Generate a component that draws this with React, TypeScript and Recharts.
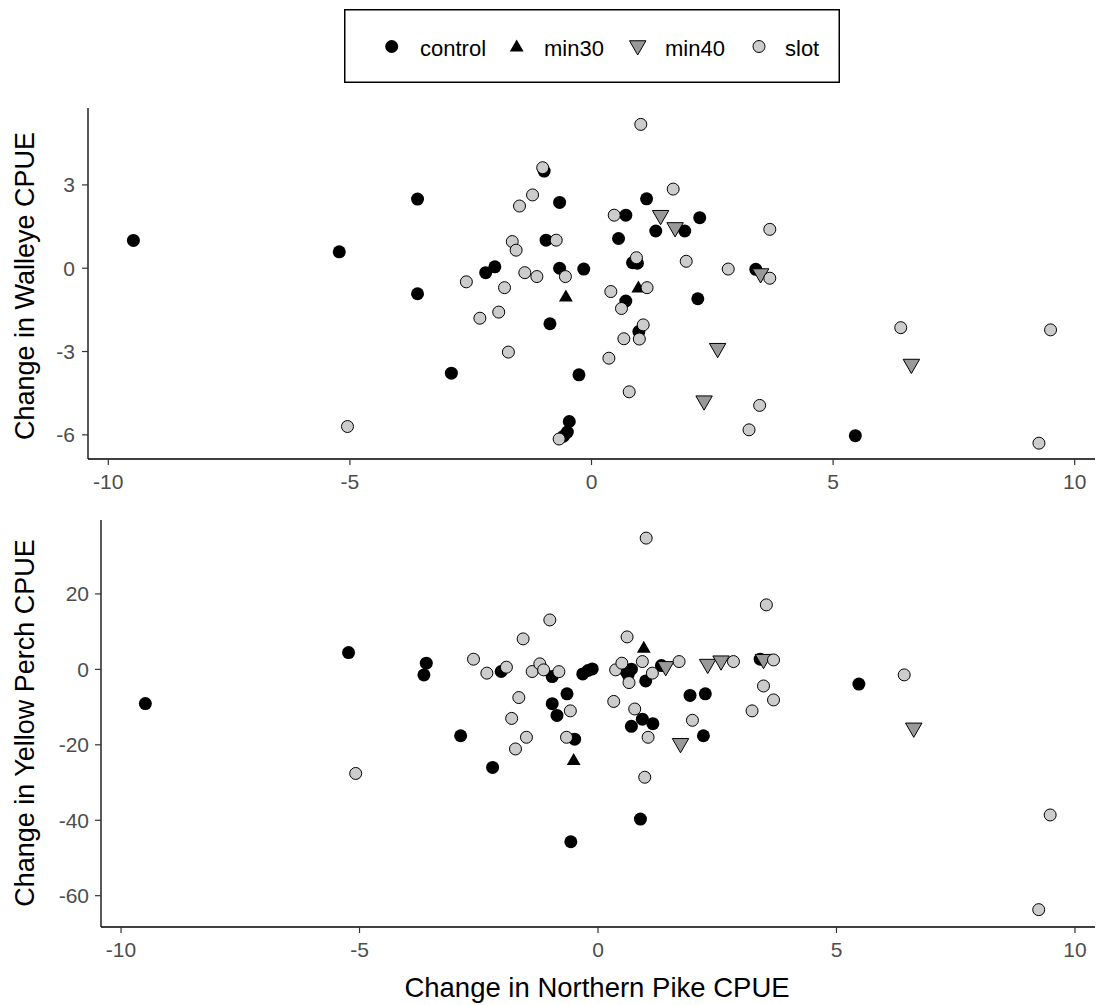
import React from 'react';
import { ScatterChart, Scatter, XAxis, YAxis, Legend } from 'recharts';

// Change in Northern Pike CPUE (x) vs Walleye CPUE (top panel)
const wControlPike = [-9.48, -5.22, -3.6, -3.6, -2.9, -2.19, -2.0, -0.98, -0.94, -0.86, -0.66, -0.66, -0.46, -0.5, -0.58, -0.26, -0.16, 0.56, 0.71, 0.71, 0.85, 0.95, 0.98, 1.14, 1.33, 1.93, 2.24, 2.2, 3.4, 5.46];
const wControlWalleye = [1.0, 0.59, 2.49, -0.92, -3.78, -0.16, 0.05, 3.5, 1.01, -2.0, 2.37, 0.0, -5.52, -5.9, -6.05, -3.84, -0.03, 1.07, 1.91, -1.18, 0.2, 0.18, -2.28, 2.5, 1.34, 1.34, 1.82, -1.1, -0.04, -6.03];
const wMin30Pike = [-0.53, 0.97];
const wMin30Walleye = [-1.05, -0.73];
const wMin40Pike = [1.43, 1.73, 2.61, 2.33, 3.5, 6.62];
const wMin40Walleye = [1.91, 1.47, -2.88, -4.77, -0.19, -3.45];
const wSlotPike = [-5.05, -2.59, -2.31, -1.92, -1.8, -1.72, -1.64, -1.56, -1.49, -1.38, -1.22, -1.13, -1.01, -0.73, -0.54, -0.67, 0.36, 0.4, 0.47, 0.62, 0.67, 0.78, 0.93, 0.99, 1.02, 1.07, 1.15, 1.69, 1.96, 2.83, 3.26, 3.48, 3.69, 3.69, 6.4, 9.26, 9.5];
const wSlotWalleye = [-5.7, -0.49, -1.8, -1.58, -0.7, -3.02, 0.96, 0.65, 2.24, -0.16, 2.64, -0.3, 3.62, 1.01, -0.3, -6.15, -3.24, -0.84, 1.91, -1.45, -2.54, -4.45, 0.38, -2.55, 5.18, -2.04, -0.7, 2.85, 0.25, -0.03, -5.82, -4.94, 1.4, -0.36, -2.14, -6.3, -2.22];

// Change in Northern Pike CPUE (x) vs Yellow Perch CPUE (bottom panel)
const pControlPike = [-9.49, -5.23, -3.6, -3.65, -2.88, -2.21, -2.03, -0.96, -0.96, -0.86, -0.65, -0.49, -0.57, -0.32, -0.21, -0.12, 0.59, 0.7, 0.63, 0.7, 0.93, 1.15, 1.0, 0.89, 1.33, 1.93, 2.25, 2.21, 3.4, 5.47];
const pControlPerch = [-9.06, 4.45, 1.64, -1.46, -17.6, -26.0, -0.57, -1.9, -9.1, -12.2, -6.49, -18.5, -45.7, -1.2, -0.3, 0.13, -0.57, 0.05, -1.46, -15.1, -13.2, -14.4, -3.05, -39.7, 1.0, -6.9, -6.49, -17.6, 2.7, -3.9];
const pMin30Pike = [0.96, -0.51];
const pMin30Perch = [5.5, -24.3];
const pMin40Pike = [1.42, 2.3, 2.58, 3.47, 1.73, 6.62];
const pMin40Perch = [0.8, 1.4, 2.3, 2.7, -19.6, -15.5];
const pSlotPike = [-5.08, -2.61, -2.33, -1.92, -1.81, -1.73, -1.66, -1.57, -1.5, -1.38, -1.22, -1.14, -1.01, -0.82, -0.66, -0.58, 0.33, 0.37, 0.5, 0.61, 0.65, 0.77, 0.93, 0.98, 1.01, 1.05, 1.14, 1.7, 1.98, 2.84, 3.23, 3.47, 3.53, 3.68, 3.68, 6.42, 9.24, 9.48];
const pSlotPerch = [-27.6, 2.7, -1.0, 0.58, -13.0, -21.1, -7.47, 8.08, -18.0, -0.57, 1.46, -0.13, 13.1, -0.6, -18.0, -11.0, -8.5, -0.13, 1.64, 8.6, -3.5, -10.5, 2.07, -28.6, 34.8, -18.0, -1.0, 2.07, -13.5, 2.07, -11.0, -4.4, 17.1, 2.5, -8.1, -1.46, -63.7, -38.6];

const groups = ['control', 'min30', 'min40', 'slot'];
const xTicks = [-10, -5, 0, 5, 10];
const walleyeTicks = [-6, -3, 0, 3];
const perchTicks = [-60, -40, -20, 0, 20];

const FONT = '"Liberation Sans", Arial, sans-serif';

const toPoints = (xs: number[], ys: number[]) => xs.map((x, i) => ({ x, y: ys[i] }));

const dotShape = (p: any) => <circle cx={p.cx} cy={p.cy} r={6.5} fill="#000" />;
const slotShape = (p: any) => (
  <circle cx={p.cx} cy={p.cy} r={6} fill="#cccccc" stroke="#000" strokeWidth={1} />
);
const upTri = (cx: number, cy: number, r: number) =>
  `${cx},${cy - r} ${cx + 0.866 * r},${cy + r / 2} ${cx - 0.866 * r},${cy + r / 2}`;
const downTri = (cx: number, cy: number, r: number) =>
  `${cx},${cy + r} ${cx + 0.866 * r},${cy - r / 2} ${cx - 0.866 * r},${cy - r / 2}`;
const min30Shape = (p: any) => <polygon points={upTri(p.cx, p.cy, 8)} fill="#000" />;
const min40Shape = (p: any) => (
  <polygon points={downTri(p.cx, p.cy, 9.5)} fill="#999999" stroke="#000" strokeWidth={1} />
);

const XTick = (props: any) => (
  <text x={props.x} y={props.y} dy="0.71em" textAnchor="middle" fill="#4d4d4d" fontSize={21} fontFamily={FONT}>
    {props.payload.value}
  </text>
);
const YTick = (props: any) => (
  <text x={props.x} y={props.y} dy="0.36em" textAnchor="end" fill="#4d4d4d" fontSize={21} fontFamily={FONT}>
    {props.payload.value}
  </text>
);

const yTitle = (text: string, cx: number, cy: number) => () => (
  <text
    x={cx}
    y={cy}
    transform={`rotate(-90, ${cx}, ${cy})`}
    textAnchor="middle"
    dominantBaseline="central"
    fontSize={27}
    fontFamily={FONT}
    fill="#000"
  >
    {text}
  </text>
);

const LegendBox = () => {
  const cy = 37.5;
  const textY = 46.5;
  const textProps = { fontSize: 22, fontFamily: FONT, fill: '#000' };
  return (
    <svg width={496} height={74} style={{ display: 'block' }}>
      <rect x={0.75} y={0.75} width={494.5} height={72.5} fill="#fff" stroke="#000" strokeWidth={1.5} />
      <circle cx={47.7} cy={cy} r={6.5} fill="#000" />
      <text x={76} y={textY} {...textProps}>{groups[0]}</text>
      <polygon points={upTri(172.7, cy + 1, 8)} fill="#000" />
      <text x={200} y={textY} {...textProps}>{groups[1]}</text>
      <polygon points={downTri(293.7, cy - 1, 9.5)} fill="#999999" stroke="#000" strokeWidth={1} />
      <text x={321} y={textY} {...textProps}>{groups[2]}</text>
      <circle cx={415} cy={cy} r={6} fill="#cccccc" stroke="#000" strokeWidth={1} />
      <text x={441} y={textY} {...textProps}>{groups[3]}</text>
    </svg>
  );
};

const axisLine = { stroke: '#000', strokeWidth: 1.3 };
const tickLine = { stroke: '#333', strokeWidth: 1.2 };

export default function App() {
  return (
    <div style={{ position: 'absolute', left: 0, top: 0, width: 1097, height: 1005, background: '#fff' }}>
      <div style={{ position: 'absolute', left: 0, top: 0 }}>
        <ScatterChart width={1097} height={500} margin={{ top: 108, right: 2, bottom: 0, left: 0 }}>
          <XAxis
            type="number"
            dataKey="x"
            domain={[-10.42, 10.42]}
            ticks={xTicks}
            allowDataOverflow
            height={41}
            axisLine={axisLine}
            tickLine={tickLine}
            tickSize={6}
            tickMargin={9}
            tick={<XTick />}
          />
          <YAxis
            type="number"
            dataKey="y"
            domain={[-6.87, 5.77]}
            ticks={walleyeTicks}
            allowDataOverflow
            width={88}
            axisLine={axisLine}
            tickLine={tickLine}
            tickSize={6}
            tickMargin={7}
            tick={<YTick />}
            label={yTitle('Change in Walleye CPUE', 25, 286)}
          />
          <Legend
            layout="vertical"
            align="center"
            verticalAlign="middle"
            content={() => <LegendBox />}
            wrapperStyle={{ position: 'absolute', top: 9, left: 344, width: 496, height: 74 }}
          />
          <Scatter name="control" data={toPoints(wControlPike, wControlWalleye)} shape={dotShape} isAnimationActive={false} />
          <Scatter name="min30" data={toPoints(wMin30Pike, wMin30Walleye)} shape={min30Shape} isAnimationActive={false} />
          <Scatter name="min40" data={toPoints(wMin40Pike, wMin40Walleye)} shape={min40Shape} isAnimationActive={false} />
          <Scatter name="slot" data={toPoints(wSlotPike, wSlotWalleye)} shape={slotShape} isAnimationActive={false} />
        </ScatterChart>
      </div>
      <div style={{ position: 'absolute', left: 0, top: 500 }}>
        <ScatterChart width={1097} height={505} margin={{ top: 20, right: 2, bottom: 0, left: 0 }}>
          <XAxis
            type="number"
            dataKey="x"
            domain={[-10.42, 10.42]}
            ticks={xTicks}
            allowDataOverflow
            height={78}
            axisLine={axisLine}
            tickLine={tickLine}
            tickSize={6}
            tickMargin={9}
            tick={<XTick />}
            label={() => (
              <text x={597} y={497} textAnchor="middle" fontSize={27.5} fontFamily={FONT} fill="#000">
                Change in Northern Pike CPUE
              </text>
            )}
          />
          <YAxis
            type="number"
            dataKey="y"
            domain={[-68.3, 39.6]}
            ticks={perchTicks}
            allowDataOverflow
            width={101}
            axisLine={axisLine}
            tickLine={tickLine}
            tickSize={6}
            tickMargin={6}
            tick={<YTick />}
            label={yTitle('Change in Yellow Perch CPUE', 25, 223)}
          />
          <Scatter name="control" data={toPoints(pControlPike, pControlPerch)} shape={dotShape} isAnimationActive={false} />
          <Scatter name="min30" data={toPoints(pMin30Pike, pMin30Perch)} shape={min30Shape} isAnimationActive={false} />
          <Scatter name="min40" data={toPoints(pMin40Pike, pMin40Perch)} shape={min40Shape} isAnimationActive={false} />
          <Scatter name="slot" data={toPoints(pSlotPike, pSlotPerch)} shape={slotShape} isAnimationActive={false} />
        </ScatterChart>
      </div>
    </div>
  );
}
